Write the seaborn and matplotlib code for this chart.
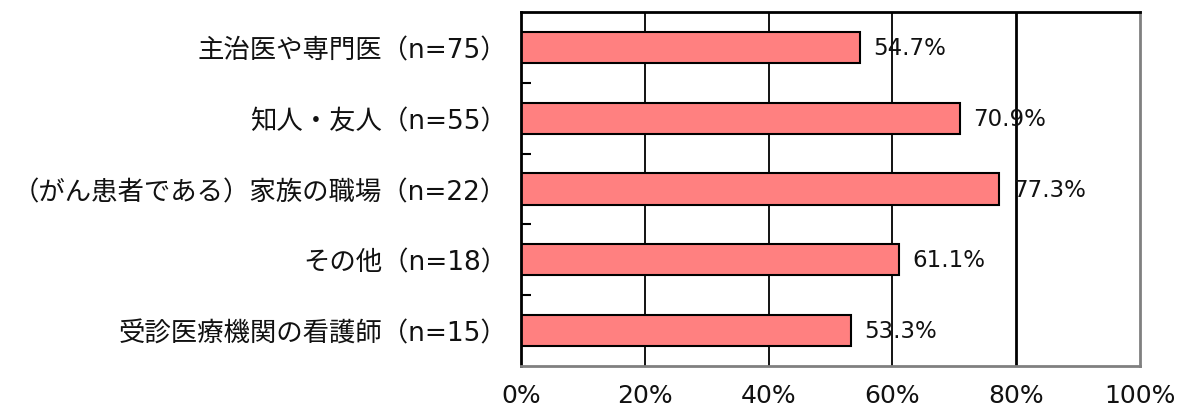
import pandas as pd
import numpy as np
from matplotlib import pyplot as plt
import seaborn as sns

categories = [
    '主治医や専門医（n=75）',
    '知人・友人（n=55）',
    '（がん患者である）家族の職場（n=22）',
    'その他（n=18）',
    '受診医療機関の看護師（n=15）',
]
values = [54.7, 70.9, 77.3, 61.1, 53.3]
x_ticks = [0, 20, 40, 60, 80, 100]
x_labels = ['0%', '20%', '40%', '60%', '80%', '100%']

sns.set_style('white')
plt.rcParams['font.family'] = ['DejaVu Sans', 'Noto Sans CJK JP']

df = pd.DataFrame({'category': categories, 'value': values})

fig = plt.figure(figsize=(11.83, 4.10), dpi=100)
ax = fig.add_axes([0.4404, 0.105, 0.5232, 0.863])

sns.barplot(data=df, x='value', y='category', orient='h', color='#FF8080',
            saturation=1, width=0.44, edgecolor='black', linewidth=1.5, ax=ax)

ax.set_xlim(0, 100)
ax.set_ylim(len(categories) - 0.5, -0.5)

# vertical gridlines
for t in x_ticks[1:-1]:
    ax.axvline(t, color='black', lw=2.0 if t == 80 else 1.3, zorder=0)

for i, v in enumerate(values):
    ax.text(v + 2.2, i, f'{v:.1f}%', va='center', ha='left', fontsize=16.5,
            color='#111111')

ax.set_xticks(x_ticks)
ax.set_xticklabels(x_labels, fontsize=18, color='#111111')
ax.tick_params(axis='x', length=0, pad=12)
ax.set_yticks(range(len(categories)))
ax.set_yticklabels(categories, fontsize=19, color='#111111')
ax.tick_params(axis='y', length=0, pad=10)
ax.set_yticks(np.arange(0.5, len(categories) - 0.5), minor=True)
ax.tick_params(axis='y', which='minor', left=True, direction='in', length=7,
               width=1.5, color='black')
ax.set_xlabel('')
ax.set_ylabel('')

for side in ['left', 'top']:
    ax.spines[side].set_color('black')
    ax.spines[side].set_linewidth(2)
for side in ['right', 'bottom']:
    ax.spines[side].set_color('#808080')
    ax.spines[side].set_linewidth(2)

fig.savefig('out.png', dpi=100)
